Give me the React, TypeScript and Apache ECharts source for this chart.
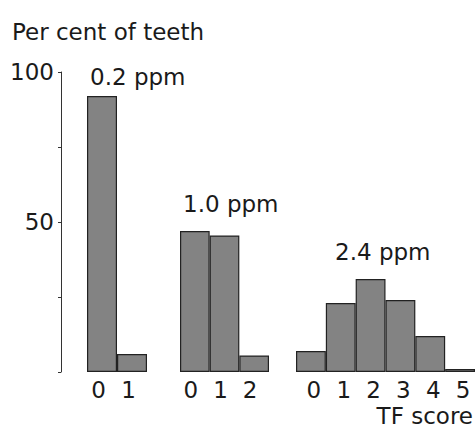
import React, { useEffect, useRef } from "react";
import * as echarts from "echarts";

const yAxisTitle = "Per cent of teeth";
const xAxisTitle = "TF score";
const groupLabels = ["0.2 ppm", "1.0 ppm", "2.4 ppm"];
const scores02 = ["0", "1"];
const values02 = [92, 6];
const scores10 = ["0", "1", "2"];
const values10 = [47, 45.5, 5.5];
const scores24 = ["0", "1", "2", "3", "4", "5"];
const values24 = [7, 23, 31, 24, 12, 1];
const yLabelValues = [50, 100];

const FONT = "DejaVu Sans";
const TEXT = "#1a1a1a";
const FS = 23;
const LH = 18;

export default function App() {
  const ref = useRef<HTMLDivElement>(null);
  useEffect(() => {
    if (!ref.current) return;
    const chart = echarts.init(ref.current, undefined, { renderer: "svg" });
    const groups = [
      { scores: scores02, values: values02 },
      { scores: scores10, values: values10 },
      { scores: scores24, values: values24 },
    ];
    const grids = [
      { left: 87, width: 60, top: 72, height: 300 },
      { left: 180, width: 89, top: 72, height: 300 },
      { left: 296, width: 179, top: 72, height: 300 },
    ];
    const labelPadding = [
      [0, 7, 0, 0],
      [0, 8, 0, 0],
      [0, 0, 0, 6],
    ];
    const titleStyle = {
      fontFamily: FONT,
      fontSize: FS,
      fontWeight: "normal" as const,
      color: TEXT,
      lineHeight: LH,
    };
    const labelPos = [
      { left: 90, top: 67.5 },
      { left: 183, top: 194.5 },
      { left: 335, top: 242.5 },
    ];
    chart.setOption({
      animation: false,
      backgroundColor: "#ffffff",
      title: [
        { text: yAxisTitle, left: 12, top: 23, padding: 0, textStyle: titleStyle },
        ...groupLabels.map((t, i) => ({
          text: t,
          left: labelPos[i].left,
          top: labelPos[i].top,
          padding: 0,
          textStyle: titleStyle,
        })),
        { text: xAxisTitle, right: 3, top: 406.5, padding: 0, textStyle: titleStyle },
      ],
      grid: grids.map((g) => ({ ...g, containLabel: false })),
      xAxis: groups.map((g, i) => ({
        type: "category",
        gridIndex: i,
        data: g.scores,
        axisLine: { show: false },
        axisTick: { show: false },
        axisLabel: {
          fontFamily: FONT,
          fontSize: FS,
          color: TEXT,
          lineHeight: LH,
          margin: 9,
          padding: labelPadding[i],
        },
      })),
      yAxis: groups.map((_, i) => ({
        type: "value",
        gridIndex: i,
        min: 0,
        max: 100,
        interval: 25,
        show: i === 0,
        offset: i === 0 ? 26 : 0,
        splitLine: { show: false },
        axisLine: { show: true, lineStyle: { color: "#333333", width: 1 } },
        axisTick: { show: true, length: 3, lineStyle: { color: "#333333" } },
        axisLabel: {
          fontFamily: FONT,
          fontSize: FS,
          color: TEXT,
          lineHeight: LH,
          margin: 7,
          formatter: (v: number) => (yLabelValues.includes(v) ? String(v) : ""),
        },
      })),
      series: groups.map((g, i) => ({
        type: "bar",
        xAxisIndex: i,
        yAxisIndex: i,
        data: g.values,
        barWidth: "100%",
        barCategoryGap: 0,
        itemStyle: { color: "#838383", borderColor: "#222222", borderWidth: 1.2 },
      })),
    });
    return () => chart.dispose();
  }, []);
  return (
    <div
      ref={ref}
      style={{ position: "fixed", left: 0, top: 0, width: 476, height: 431 }}
    />
  );
}
